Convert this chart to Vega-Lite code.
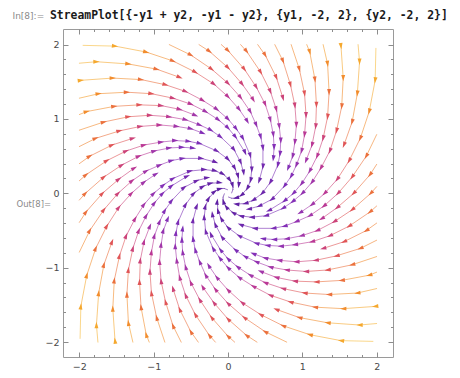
{
  "$schema": "https://vega.github.io/schema/vega-lite/v6.json",
  "width": 330,
  "height": 328,
  "autosize": {"type": "none"},
  "padding": {"left": 63, "top": 29, "right": 67, "bottom": 21},
  "background": "#ffffff",
  "title": {
    "text": "StreamPlot[{-y1 + y2, -y1 - y2}, {y1, -2, 2}, {y2, -2, 2}]",
    "anchor": "start",
    "frame": "group",
    "orient": "top",
    "font": "DejaVu Sans Mono",
    "fontSize": 11.4,
    "fontWeight": "bold",
    "color": "#1a1a1a",
    "baseline": "alphabetic",
    "dx": -13,
    "dy": 27,
    "offset": 8
  },
  "config": {
    "view": {"stroke": "#9a9a9a", "strokeWidth": 1},
    "axis": {"domain": false, "grid": false, "tickColor": "#8c8c8c", "tickWidth": 1, "labelFont": "DejaVu Sans", "labelFontSize": 9.5, "labelColor": "#4a4a4a", "labelOverlap": false, "labelFlush": false, "labelBound": false}
  },
  "datasets": {
    "sl": [
      {"i":0,"x":1.52,"y":1.98,"v":3.54,"d":277.5},{"i":0,"x":1.55,"y":1.55,"v":3.1,"d":270},{"i":0,"x":1.53,"y":1.17,"v":2.72,"d":262.5},{"i":0,"x":1.46,"y":0.84,"v":2.39,"d":255},{"i":0,"x":1.37,"y":0.57,"v":2.09,"d":247.5},{"i":0,"x":1.25,"y":0.34,"v":1.84,"d":240},{"i":0,"x":1.13,"y":0.15,"v":1.61,"d":232.5},{"i":0,"x":1,"y":0,"v":1.41,"d":225},{"i":0,"x":0.87,"y":-0.11,"v":1.24,"d":217.5},{"i":0,"x":0.74,"y":-0.2,"v":1.09,"d":210},{"i":0,"x":0.51,"y":-0.3,"v":0.84,"d":195},{"i":0,"x":0.32,"y":-0.32,"v":0.64,"d":180},{"i":0,"x":0.175,"y":-0.304,"v":0.5,"d":165},{"i":0,"x":0.07,"y":-0.261,"v":0.38,"d":150},{"i":0,"x":-0.024,"y":-0.181,"v":0.26,"d":127.5},{"i":0,"x":-0.062,"y":-0.107,"v":0.17,"d":105},{"i":0,"x":-0.066,"y":-0.051,"v":0.12,"d":82.5},{"i":0,"x":-0.049,"y":-0.006,"v":0.07,"d":52.5},
      {"i":12,"x":-1.98,"y":1.52,"v":3.54,"d":7.5},{"i":12,"x":-1.55,"y":1.55,"v":3.1,"d":0},{"i":12,"x":-1.17,"y":1.53,"v":2.72,"d":352.5},{"i":12,"x":-0.84,"y":1.46,"v":2.39,"d":345},{"i":12,"x":-0.57,"y":1.37,"v":2.09,"d":337.5},{"i":12,"x":-0.34,"y":1.25,"v":1.84,"d":330},{"i":12,"x":-0.15,"y":1.13,"v":1.61,"d":322.5},{"i":12,"x":0,"y":1,"v":1.41,"d":315},{"i":12,"x":0.11,"y":0.87,"v":1.24,"d":307.5},{"i":12,"x":0.2,"y":0.74,"v":1.09,"d":300},{"i":12,"x":0.3,"y":0.51,"v":0.84,"d":285},{"i":12,"x":0.32,"y":0.32,"v":0.64,"d":270},{"i":12,"x":0.304,"y":0.175,"v":0.5,"d":255},{"i":12,"x":0.261,"y":0.07,"v":0.38,"d":240},{"i":12,"x":0.181,"y":-0.024,"v":0.26,"d":217.5},{"i":12,"x":0.107,"y":-0.062,"v":0.17,"d":195},{"i":12,"x":0.051,"y":-0.066,"v":0.12,"d":172.5},{"i":12,"x":0.006,"y":-0.049,"v":0.07,"d":142.5},
      {"i":24,"x":-1.52,"y":-1.98,"v":3.54,"d":97.5},{"i":24,"x":-1.55,"y":-1.55,"v":3.1,"d":90},{"i":24,"x":-1.53,"y":-1.17,"v":2.72,"d":82.5},{"i":24,"x":-1.46,"y":-0.84,"v":2.39,"d":75},{"i":24,"x":-1.37,"y":-0.57,"v":2.09,"d":67.5},{"i":24,"x":-1.25,"y":-0.34,"v":1.84,"d":60},{"i":24,"x":-1.13,"y":-0.15,"v":1.61,"d":52.5},{"i":24,"x":-1,"y":0,"v":1.41,"d":45},{"i":24,"x":-0.87,"y":0.11,"v":1.24,"d":37.5},{"i":24,"x":-0.74,"y":0.2,"v":1.09,"d":30},{"i":24,"x":-0.51,"y":0.3,"v":0.84,"d":15},{"i":24,"x":-0.32,"y":0.32,"v":0.64,"d":0},{"i":24,"x":-0.175,"y":0.304,"v":0.5,"d":345},{"i":24,"x":-0.07,"y":0.261,"v":0.38,"d":330},{"i":24,"x":0.024,"y":0.181,"v":0.26,"d":307.5},{"i":24,"x":0.062,"y":0.107,"v":0.17,"d":285},{"i":24,"x":0.066,"y":0.051,"v":0.12,"d":262.5},{"i":24,"x":0.049,"y":0.006,"v":0.07,"d":232.5},
      {"i":36,"x":1.98,"y":-1.52,"v":3.54,"d":187.5},{"i":36,"x":1.55,"y":-1.55,"v":3.1,"d":180},{"i":36,"x":1.17,"y":-1.53,"v":2.72,"d":172.5},{"i":36,"x":0.84,"y":-1.46,"v":2.39,"d":165},{"i":36,"x":0.57,"y":-1.37,"v":2.09,"d":157.5},{"i":36,"x":0.34,"y":-1.25,"v":1.84,"d":150},{"i":36,"x":0.15,"y":-1.13,"v":1.61,"d":142.5},{"i":36,"x":0,"y":-1,"v":1.41,"d":135},{"i":36,"x":-0.11,"y":-0.87,"v":1.24,"d":127.5},{"i":36,"x":-0.2,"y":-0.74,"v":1.09,"d":120},{"i":36,"x":-0.3,"y":-0.51,"v":0.84,"d":105},{"i":36,"x":-0.32,"y":-0.32,"v":0.64,"d":90},{"i":36,"x":-0.304,"y":-0.175,"v":0.5,"d":75},{"i":36,"x":-0.261,"y":-0.07,"v":0.38,"d":60},{"i":36,"x":-0.181,"y":0.024,"v":0.26,"d":37.5},{"i":36,"x":-0.107,"y":0.062,"v":0.17,"d":15},{"i":36,"x":-0.051,"y":0.066,"v":0.12,"d":352.5},{"i":36,"x":-0.006,"y":0.049,"v":0.07,"d":322.5},

      {"i":1,"x":1.28,"y":2,"v":3.36},{"i":1,"x":1.34,"y":1.74,"v":3.1,"d":277.5},{"i":1,"x":1.36,"y":1.36,"v":2.72,"d":270},{"i":1,"x":1.34,"y":1.03,"v":2.39,"d":262.5},{"i":1,"x":1.28,"y":0.74,"v":2.09,"d":255},{"i":1,"x":1.2,"y":0.5,"v":1.84,"d":247.5},{"i":1,"x":1.1,"y":0.3,"v":1.61,"d":240},{"i":1,"x":0.99,"y":0.13,"v":1.41,"d":232.5},{"i":1,"x":0.88,"y":0,"v":1.24,"d":225},{"i":1,"x":0.76,"y":-0.1,"v":1.09,"d":217.5},{"i":1,"x":0.55,"y":-0.23,"v":0.84,"d":202.5},
      {"i":13,"x":-2,"y":1.28,"v":3.36},{"i":13,"x":-1.74,"y":1.34,"v":3.1,"d":7.5},{"i":13,"x":-1.36,"y":1.36,"v":2.72,"d":0},{"i":13,"x":-1.03,"y":1.34,"v":2.39,"d":352.5},{"i":13,"x":-0.74,"y":1.28,"v":2.09,"d":345},{"i":13,"x":-0.5,"y":1.2,"v":1.84,"d":337.5},{"i":13,"x":-0.3,"y":1.1,"v":1.61,"d":330},{"i":13,"x":-0.13,"y":0.99,"v":1.41,"d":322.5},{"i":13,"x":0,"y":0.88,"v":1.24,"d":315},{"i":13,"x":0.1,"y":0.76,"v":1.09,"d":307.5},{"i":13,"x":0.23,"y":0.55,"v":0.84,"d":292.5},
      {"i":25,"x":-1.28,"y":-2,"v":3.36},{"i":25,"x":-1.34,"y":-1.74,"v":3.1,"d":97.5},{"i":25,"x":-1.36,"y":-1.36,"v":2.72,"d":90},{"i":25,"x":-1.34,"y":-1.03,"v":2.39,"d":82.5},{"i":25,"x":-1.28,"y":-0.74,"v":2.09,"d":75},{"i":25,"x":-1.2,"y":-0.5,"v":1.84,"d":67.5},{"i":25,"x":-1.1,"y":-0.3,"v":1.61,"d":60},{"i":25,"x":-0.99,"y":-0.13,"v":1.41,"d":52.5},{"i":25,"x":-0.88,"y":0,"v":1.24,"d":45},{"i":25,"x":-0.76,"y":0.1,"v":1.09,"d":37.5},{"i":25,"x":-0.55,"y":0.23,"v":0.84,"d":22.5},
      {"i":37,"x":2,"y":-1.28,"v":3.36},{"i":37,"x":1.74,"y":-1.34,"v":3.1,"d":187.5},{"i":37,"x":1.36,"y":-1.36,"v":2.72,"d":180},{"i":37,"x":1.03,"y":-1.34,"v":2.39,"d":172.5},{"i":37,"x":0.74,"y":-1.28,"v":2.09,"d":165},{"i":37,"x":0.5,"y":-1.2,"v":1.84,"d":157.5},{"i":37,"x":0.3,"y":-1.1,"v":1.61,"d":150},{"i":37,"x":0.13,"y":-0.99,"v":1.41,"d":142.5},{"i":37,"x":0,"y":-0.88,"v":1.24,"d":135},{"i":37,"x":-0.1,"y":-0.76,"v":1.09,"d":127.5},{"i":37,"x":-0.23,"y":-0.55,"v":0.84,"d":112.5},

      {"i":2,"x":1.06,"y":2,"v":3.2},{"i":2,"x":1.1,"y":1.9,"v":3.1,"d":285},{"i":2,"x":1.17,"y":1.53,"v":2.72,"d":277.5},{"i":2,"x":1.19,"y":1.19,"v":2.39,"d":270},{"i":2,"x":1.18,"y":0.9,"v":2.09,"d":262.5},{"i":2,"x":1.13,"y":0.65,"v":1.84,"d":255},{"i":2,"x":1.05,"y":0.44,"v":1.61,"d":247.5},
      {"i":14,"x":-2,"y":1.06,"v":3.2},{"i":14,"x":-1.9,"y":1.1,"v":3.1,"d":15},{"i":14,"x":-1.53,"y":1.17,"v":2.72,"d":7.5},{"i":14,"x":-1.19,"y":1.19,"v":2.39,"d":0},{"i":14,"x":-0.9,"y":1.18,"v":2.09,"d":352.5},{"i":14,"x":-0.65,"y":1.13,"v":1.84,"d":345},{"i":14,"x":-0.44,"y":1.05,"v":1.61,"d":337.5},
      {"i":26,"x":-1.06,"y":-2,"v":3.2},{"i":26,"x":-1.1,"y":-1.9,"v":3.1,"d":105},{"i":26,"x":-1.17,"y":-1.53,"v":2.72,"d":97.5},{"i":26,"x":-1.19,"y":-1.19,"v":2.39,"d":90},{"i":26,"x":-1.18,"y":-0.9,"v":2.09,"d":82.5},{"i":26,"x":-1.13,"y":-0.65,"v":1.84,"d":75},{"i":26,"x":-1.05,"y":-0.44,"v":1.61,"d":67.5},
      {"i":38,"x":2,"y":-1.06,"v":3.2},{"i":38,"x":1.9,"y":-1.1,"v":3.1,"d":195},{"i":38,"x":1.53,"y":-1.17,"v":2.72,"d":187.5},{"i":38,"x":1.19,"y":-1.19,"v":2.39,"d":180},{"i":38,"x":0.9,"y":-1.18,"v":2.09,"d":172.5},{"i":38,"x":0.65,"y":-1.13,"v":1.84,"d":165},{"i":38,"x":0.44,"y":-1.05,"v":1.61,"d":157.5},

      {"i":3,"x":0.85,"y":2,"v":3.07},{"i":3,"x":0.96,"y":1.67,"v":2.72,"d":285},{"i":3,"x":1.03,"y":1.34,"v":2.39,"d":277.5},{"i":3,"x":1.05,"y":1.05,"v":2.09,"d":270},{"i":3,"x":1.03,"y":0.79,"v":1.84,"d":262.5},{"i":3,"x":0.99,"y":0.57,"v":1.61,"d":255},{"i":3,"x":0.92,"y":0.38,"v":1.41,"d":247.5},{"i":3,"x":0.85,"y":0.23,"v":1.24,"d":240},{"i":3,"x":0.76,"y":0.1,"v":1.09,"d":232.5},{"i":3,"x":0.59,"y":-0.08,"v":0.84,"d":217.5},{"i":3,"x":0.42,"y":-0.17,"v":0.64,"d":202.5},{"i":3,"x":0.28,"y":-0.21,"v":0.5,"d":187.5},
      {"i":15,"x":-2,"y":0.85,"v":3.07},{"i":15,"x":-1.67,"y":0.96,"v":2.72,"d":15},{"i":15,"x":-1.34,"y":1.03,"v":2.39,"d":7.5},{"i":15,"x":-1.05,"y":1.05,"v":2.09,"d":0},{"i":15,"x":-0.79,"y":1.03,"v":1.84,"d":352.5},{"i":15,"x":-0.57,"y":0.99,"v":1.61,"d":345},{"i":15,"x":-0.38,"y":0.92,"v":1.41,"d":337.5},{"i":15,"x":-0.23,"y":0.85,"v":1.24,"d":330},{"i":15,"x":-0.1,"y":0.76,"v":1.09,"d":322.5},{"i":15,"x":0.08,"y":0.59,"v":0.84,"d":307.5},{"i":15,"x":0.17,"y":0.42,"v":0.64,"d":292.5},{"i":15,"x":0.21,"y":0.28,"v":0.5,"d":277.5},
      {"i":27,"x":-0.85,"y":-2,"v":3.07},{"i":27,"x":-0.96,"y":-1.67,"v":2.72,"d":105},{"i":27,"x":-1.03,"y":-1.34,"v":2.39,"d":97.5},{"i":27,"x":-1.05,"y":-1.05,"v":2.09,"d":90},{"i":27,"x":-1.03,"y":-0.79,"v":1.84,"d":82.5},{"i":27,"x":-0.99,"y":-0.57,"v":1.61,"d":75},{"i":27,"x":-0.92,"y":-0.38,"v":1.41,"d":67.5},{"i":27,"x":-0.85,"y":-0.23,"v":1.24,"d":60},{"i":27,"x":-0.76,"y":-0.1,"v":1.09,"d":52.5},{"i":27,"x":-0.59,"y":0.08,"v":0.84,"d":37.5},{"i":27,"x":-0.42,"y":0.17,"v":0.64,"d":22.5},{"i":27,"x":-0.28,"y":0.21,"v":0.5,"d":7.5},
      {"i":39,"x":2,"y":-0.85,"v":3.07},{"i":39,"x":1.67,"y":-0.96,"v":2.72,"d":195},{"i":39,"x":1.34,"y":-1.03,"v":2.39,"d":187.5},{"i":39,"x":1.05,"y":-1.05,"v":2.09,"d":180},{"i":39,"x":0.79,"y":-1.03,"v":1.84,"d":172.5},{"i":39,"x":0.57,"y":-0.99,"v":1.61,"d":165},{"i":39,"x":0.38,"y":-0.92,"v":1.41,"d":157.5},{"i":39,"x":0.23,"y":-0.85,"v":1.24,"d":150},{"i":39,"x":0.1,"y":-0.76,"v":1.09,"d":142.5},{"i":39,"x":-0.08,"y":-0.59,"v":0.84,"d":127.5},{"i":39,"x":-0.17,"y":-0.42,"v":0.64,"d":112.5},{"i":39,"x":-0.21,"y":-0.28,"v":0.5,"d":97.5},

      {"i":4,"x":0.63,"y":2,"v":2.96},{"i":4,"x":0.74,"y":1.78,"v":2.72,"d":292.5},{"i":4,"x":0.84,"y":1.46,"v":2.39,"d":285},{"i":4,"x":0.9,"y":1.18,"v":2.09,"d":277.5},{"i":4,"x":0.92,"y":0.92,"v":1.84,"d":270},{"i":4,"x":0.9,"y":0.69,"v":1.61,"d":262.5},{"i":4,"x":0.87,"y":0.5,"v":1.41,"d":255},{"i":4,"x":0.81,"y":0.34,"v":1.24,"d":247.5},
      {"i":16,"x":-2,"y":0.63,"v":2.96},{"i":16,"x":-1.78,"y":0.74,"v":2.72,"d":22.5},{"i":16,"x":-1.46,"y":0.84,"v":2.39,"d":15},{"i":16,"x":-1.18,"y":0.9,"v":2.09,"d":7.5},{"i":16,"x":-0.92,"y":0.92,"v":1.84,"d":0},{"i":16,"x":-0.69,"y":0.9,"v":1.61,"d":352.5},{"i":16,"x":-0.5,"y":0.87,"v":1.41,"d":345},{"i":16,"x":-0.34,"y":0.81,"v":1.24,"d":337.5},
      {"i":28,"x":-0.63,"y":-2,"v":2.96},{"i":28,"x":-0.74,"y":-1.78,"v":2.72,"d":112.5},{"i":28,"x":-0.84,"y":-1.46,"v":2.39,"d":105},{"i":28,"x":-0.9,"y":-1.18,"v":2.09,"d":97.5},{"i":28,"x":-0.92,"y":-0.92,"v":1.84,"d":90},{"i":28,"x":-0.9,"y":-0.69,"v":1.61,"d":82.5},{"i":28,"x":-0.87,"y":-0.5,"v":1.41,"d":75},{"i":28,"x":-0.81,"y":-0.34,"v":1.24,"d":67.5},
      {"i":40,"x":2,"y":-0.63,"v":2.96},{"i":40,"x":1.78,"y":-0.74,"v":2.72,"d":202.5},{"i":40,"x":1.46,"y":-0.84,"v":2.39,"d":195},{"i":40,"x":1.18,"y":-0.9,"v":2.09,"d":187.5},{"i":40,"x":0.92,"y":-0.92,"v":1.84,"d":180},{"i":40,"x":0.69,"y":-0.9,"v":1.61,"d":172.5},{"i":40,"x":0.5,"y":-0.87,"v":1.41,"d":165},{"i":40,"x":0.34,"y":-0.81,"v":1.24,"d":157.5},

      {"i":5,"x":0.4,"y":2,"v":2.89},{"i":5,"x":0.5,"y":1.86,"v":2.72,"d":300},{"i":5,"x":0.65,"y":1.56,"v":2.39,"d":292.5},{"i":5,"x":0.74,"y":1.28,"v":2.09,"d":285},
      {"i":17,"x":-2,"y":0.4,"v":2.89},{"i":17,"x":-1.86,"y":0.5,"v":2.72,"d":30},{"i":17,"x":-1.56,"y":0.65,"v":2.39,"d":22.5},{"i":17,"x":-1.28,"y":0.74,"v":2.09,"d":15},
      {"i":29,"x":-0.4,"y":-2,"v":2.89},{"i":29,"x":-0.5,"y":-1.86,"v":2.72,"d":120},{"i":29,"x":-0.65,"y":-1.56,"v":2.39,"d":112.5},{"i":29,"x":-0.74,"y":-1.28,"v":2.09,"d":105},
      {"i":41,"x":2,"y":-0.4,"v":2.89},{"i":41,"x":1.86,"y":-0.5,"v":2.72,"d":210},{"i":41,"x":1.56,"y":-0.65,"v":2.39,"d":202.5},{"i":41,"x":1.28,"y":-0.74,"v":2.09,"d":195},

      {"i":6,"x":0.17,"y":2,"v":2.84},{"i":6,"x":0.25,"y":1.91,"v":2.72,"d":307.5},{"i":6,"x":0.44,"y":1.63,"v":2.39,"d":300},{"i":6,"x":0.57,"y":1.37,"v":2.09,"d":292.5},{"i":6,"x":0.65,"y":1.13,"v":1.84,"d":285},{"i":6,"x":0.69,"y":0.9,"v":1.61,"d":277.5},{"i":6,"x":0.71,"y":0.71,"v":1.41,"d":270},{"i":6,"x":0.7,"y":0.53,"v":1.24,"d":262.5},{"i":6,"x":0.67,"y":0.38,"v":1.09,"d":255},{"i":6,"x":0.57,"y":0.15,"v":0.84,"d":240},{"i":6,"x":0.46,"y":0,"v":0.64,"d":225},{"i":6,"x":0.34,"y":-0.09,"v":0.5,"d":210},{"i":6,"x":0.234,"y":-0.135,"v":0.38,"d":195},{"i":6,"x":0.111,"y":-0.145,"v":0.26,"d":172.5},
      {"i":18,"x":-2,"y":0.17,"v":2.84},{"i":18,"x":-1.91,"y":0.25,"v":2.72,"d":37.5},{"i":18,"x":-1.63,"y":0.44,"v":2.39,"d":30},{"i":18,"x":-1.37,"y":0.57,"v":2.09,"d":22.5},{"i":18,"x":-1.13,"y":0.65,"v":1.84,"d":15},{"i":18,"x":-0.9,"y":0.69,"v":1.61,"d":7.5},{"i":18,"x":-0.71,"y":0.71,"v":1.41,"d":0},{"i":18,"x":-0.53,"y":0.7,"v":1.24,"d":352.5},{"i":18,"x":-0.38,"y":0.67,"v":1.09,"d":345},{"i":18,"x":-0.15,"y":0.57,"v":0.84,"d":330},{"i":18,"x":0,"y":0.46,"v":0.64,"d":315},{"i":18,"x":0.09,"y":0.34,"v":0.5,"d":300},{"i":18,"x":0.135,"y":0.234,"v":0.38,"d":285},{"i":18,"x":0.145,"y":0.111,"v":0.26,"d":262.5},
      {"i":30,"x":-0.17,"y":-2,"v":2.84},{"i":30,"x":-0.25,"y":-1.91,"v":2.72,"d":127.5},{"i":30,"x":-0.44,"y":-1.63,"v":2.39,"d":120},{"i":30,"x":-0.57,"y":-1.37,"v":2.09,"d":112.5},{"i":30,"x":-0.65,"y":-1.13,"v":1.84,"d":105},{"i":30,"x":-0.69,"y":-0.9,"v":1.61,"d":97.5},{"i":30,"x":-0.71,"y":-0.71,"v":1.41,"d":90},{"i":30,"x":-0.7,"y":-0.53,"v":1.24,"d":82.5},{"i":30,"x":-0.67,"y":-0.38,"v":1.09,"d":75},{"i":30,"x":-0.57,"y":-0.15,"v":0.84,"d":60},{"i":30,"x":-0.46,"y":0,"v":0.64,"d":45},{"i":30,"x":-0.34,"y":0.09,"v":0.5,"d":30},{"i":30,"x":-0.234,"y":0.135,"v":0.38,"d":15},{"i":30,"x":-0.111,"y":0.145,"v":0.26,"d":352.5},
      {"i":42,"x":2,"y":-0.17,"v":2.84},{"i":42,"x":1.91,"y":-0.25,"v":2.72,"d":217.5},{"i":42,"x":1.63,"y":-0.44,"v":2.39,"d":210},{"i":42,"x":1.37,"y":-0.57,"v":2.09,"d":202.5},{"i":42,"x":1.13,"y":-0.65,"v":1.84,"d":195},{"i":42,"x":0.9,"y":-0.69,"v":1.61,"d":187.5},{"i":42,"x":0.71,"y":-0.71,"v":1.41,"d":180},{"i":42,"x":0.53,"y":-0.7,"v":1.24,"d":172.5},{"i":42,"x":0.38,"y":-0.67,"v":1.09,"d":165},{"i":42,"x":0.15,"y":-0.57,"v":0.84,"d":150},{"i":42,"x":0,"y":-0.46,"v":0.64,"d":135},{"i":42,"x":-0.09,"y":-0.34,"v":0.5,"d":120},{"i":42,"x":-0.135,"y":-0.234,"v":0.38,"d":105},{"i":42,"x":-0.145,"y":-0.111,"v":0.26,"d":82.5},

      {"i":7,"x":-0.09,"y":2,"v":2.83},{"i":7,"x":0,"y":1.92,"v":2.72,"d":315},{"i":7,"x":0.22,"y":1.67,"v":2.39,"d":307.5},{"i":7,"x":0.38,"y":1.43,"v":2.09,"d":300},{"i":7,"x":0.5,"y":1.2,"v":1.84,"d":292.5},{"i":7,"x":0.57,"y":0.99,"v":1.61,"d":285},{"i":7,"x":0.61,"y":0.79,"v":1.41,"d":277.5},{"i":7,"x":0.62,"y":0.62,"v":1.24,"d":270},{"i":7,"x":0.61,"y":0.47,"v":1.09,"d":262.5},
      {"i":19,"x":-2,"y":-0.09,"v":2.83},{"i":19,"x":-1.92,"y":0,"v":2.72,"d":45},{"i":19,"x":-1.67,"y":0.22,"v":2.39,"d":37.5},{"i":19,"x":-1.43,"y":0.38,"v":2.09,"d":30},{"i":19,"x":-1.2,"y":0.5,"v":1.84,"d":22.5},{"i":19,"x":-0.99,"y":0.57,"v":1.61,"d":15},{"i":19,"x":-0.79,"y":0.61,"v":1.41,"d":7.5},{"i":19,"x":-0.62,"y":0.62,"v":1.24,"d":0},{"i":19,"x":-0.47,"y":0.61,"v":1.09,"d":352.5},
      {"i":31,"x":0.09,"y":-2,"v":2.83},{"i":31,"x":0,"y":-1.92,"v":2.72,"d":135},{"i":31,"x":-0.22,"y":-1.67,"v":2.39,"d":127.5},{"i":31,"x":-0.38,"y":-1.43,"v":2.09,"d":120},{"i":31,"x":-0.5,"y":-1.2,"v":1.84,"d":112.5},{"i":31,"x":-0.57,"y":-0.99,"v":1.61,"d":105},{"i":31,"x":-0.61,"y":-0.79,"v":1.41,"d":97.5},{"i":31,"x":-0.62,"y":-0.62,"v":1.24,"d":90},{"i":31,"x":-0.61,"y":-0.47,"v":1.09,"d":82.5},
      {"i":43,"x":2,"y":0.09,"v":2.83},{"i":43,"x":1.92,"y":0,"v":2.72,"d":225},{"i":43,"x":1.67,"y":-0.22,"v":2.39,"d":217.5},{"i":43,"x":1.43,"y":-0.38,"v":2.09,"d":210},{"i":43,"x":1.2,"y":-0.5,"v":1.84,"d":202.5},{"i":43,"x":0.99,"y":-0.57,"v":1.61,"d":195},{"i":43,"x":0.79,"y":-0.61,"v":1.41,"d":187.5},{"i":43,"x":0.62,"y":-0.62,"v":1.24,"d":180},{"i":43,"x":0.47,"y":-0.61,"v":1.09,"d":172.5},

      {"i":8,"x":-0.39,"y":2,"v":2.88},{"i":8,"x":-0.25,"y":1.91,"v":2.72,"d":322.5},{"i":8,"x":0,"y":1.69,"v":2.39,"d":315},{"i":8,"x":0.19,"y":1.47,"v":2.09,"d":307.5},{"i":8,"x":0.34,"y":1.26,"v":1.84,"d":300},
      {"i":20,"x":-2,"y":-0.39,"v":2.88},{"i":20,"x":-1.91,"y":-0.25,"v":2.72,"d":52.5},{"i":20,"x":-1.69,"y":0,"v":2.39,"d":45},{"i":20,"x":-1.47,"y":0.19,"v":2.09,"d":37.5},{"i":20,"x":-1.26,"y":0.34,"v":1.84,"d":30},
      {"i":32,"x":0.39,"y":-2,"v":2.88},{"i":32,"x":0.25,"y":-1.91,"v":2.72,"d":142.5},{"i":32,"x":0,"y":-1.69,"v":2.39,"d":135},{"i":32,"x":-0.19,"y":-1.47,"v":2.09,"d":127.5},{"i":32,"x":-0.34,"y":-1.26,"v":1.84,"d":120},
      {"i":44,"x":2,"y":0.39,"v":2.88},{"i":44,"x":1.91,"y":0.25,"v":2.72,"d":232.5},{"i":44,"x":1.69,"y":0,"v":2.39,"d":225},{"i":44,"x":1.47,"y":-0.19,"v":2.09,"d":217.5},{"i":44,"x":1.26,"y":-0.34,"v":1.84,"d":210},

      {"i":9,"x":-0.79,"y":2,"v":3.04},{"i":9,"x":-0.5,"y":1.86,"v":2.72,"d":330},{"i":9,"x":-0.22,"y":1.67,"v":2.39,"d":322.5},{"i":9,"x":0,"y":1.48,"v":2.09,"d":315},{"i":9,"x":0.17,"y":1.29,"v":1.84,"d":307.5},{"i":9,"x":0.3,"y":1.1,"v":1.61,"d":300},{"i":9,"x":0.38,"y":0.92,"v":1.41,"d":292.5},{"i":9,"x":0.44,"y":0.76,"v":1.24,"d":285},{"i":9,"x":0.47,"y":0.61,"v":1.09,"d":277.5},{"i":9,"x":0.47,"y":0.36,"v":0.84,"d":262.5},{"i":9,"x":0.42,"y":0.17,"v":0.64,"d":247.5},
      {"i":21,"x":-2,"y":-0.79,"v":3.04},{"i":21,"x":-1.86,"y":-0.5,"v":2.72,"d":60},{"i":21,"x":-1.67,"y":-0.22,"v":2.39,"d":52.5},{"i":21,"x":-1.48,"y":0,"v":2.09,"d":45},{"i":21,"x":-1.29,"y":0.17,"v":1.84,"d":37.5},{"i":21,"x":-1.1,"y":0.3,"v":1.61,"d":30},{"i":21,"x":-0.92,"y":0.38,"v":1.41,"d":22.5},{"i":21,"x":-0.76,"y":0.44,"v":1.24,"d":15},{"i":21,"x":-0.61,"y":0.47,"v":1.09,"d":7.5},{"i":21,"x":-0.36,"y":0.47,"v":0.84,"d":352.5},{"i":21,"x":-0.17,"y":0.42,"v":0.64,"d":337.5},
      {"i":33,"x":0.79,"y":-2,"v":3.04},{"i":33,"x":0.5,"y":-1.86,"v":2.72,"d":150},{"i":33,"x":0.22,"y":-1.67,"v":2.39,"d":142.5},{"i":33,"x":0,"y":-1.48,"v":2.09,"d":135},{"i":33,"x":-0.17,"y":-1.29,"v":1.84,"d":127.5},{"i":33,"x":-0.3,"y":-1.1,"v":1.61,"d":120},{"i":33,"x":-0.38,"y":-0.92,"v":1.41,"d":112.5},{"i":33,"x":-0.44,"y":-0.76,"v":1.24,"d":105},{"i":33,"x":-0.47,"y":-0.61,"v":1.09,"d":97.5},{"i":33,"x":-0.47,"y":-0.36,"v":0.84,"d":82.5},{"i":33,"x":-0.42,"y":-0.17,"v":0.64,"d":67.5},
      {"i":45,"x":2,"y":0.79,"v":3.04},{"i":45,"x":1.86,"y":0.5,"v":2.72,"d":240},{"i":45,"x":1.67,"y":0.22,"v":2.39,"d":232.5},{"i":45,"x":1.48,"y":0,"v":2.09,"d":225},{"i":45,"x":1.29,"y":-0.17,"v":1.84,"d":217.5},{"i":45,"x":1.1,"y":-0.3,"v":1.61,"d":210},{"i":45,"x":0.92,"y":-0.38,"v":1.41,"d":202.5},{"i":45,"x":0.76,"y":-0.44,"v":1.24,"d":195},{"i":45,"x":0.61,"y":-0.47,"v":1.09,"d":187.5},{"i":45,"x":0.36,"y":-0.47,"v":0.84,"d":172.5},{"i":45,"x":0.17,"y":-0.42,"v":0.64,"d":157.5},

      {"i":10,"x":-1.95,"y":1.99,"v":3.94},{"i":10,"x":-1.52,"y":1.98,"v":3.54,"d":352.5},{"i":10,"x":-1.1,"y":1.9,"v":3.1,"d":345},{"i":10,"x":-0.74,"y":1.78,"v":2.72,"d":337.5},{"i":10,"x":-0.44,"y":1.63,"v":2.39,"d":330},{"i":10,"x":-0.19,"y":1.47,"v":2.09,"d":322.5},{"i":10,"x":0,"y":1.3,"v":1.84,"d":315},{"i":10,"x":0.15,"y":1.13,"v":1.61,"d":307.5},{"i":10,"x":0.26,"y":0.97,"v":1.41,"d":300},
      {"i":22,"x":-1.99,"y":-1.95,"v":3.94},{"i":22,"x":-1.98,"y":-1.52,"v":3.54,"d":82.5},{"i":22,"x":-1.9,"y":-1.1,"v":3.1,"d":75},{"i":22,"x":-1.78,"y":-0.74,"v":2.72,"d":67.5},{"i":22,"x":-1.63,"y":-0.44,"v":2.39,"d":60},{"i":22,"x":-1.47,"y":-0.19,"v":2.09,"d":52.5},{"i":22,"x":-1.3,"y":0,"v":1.84,"d":45},{"i":22,"x":-1.13,"y":0.15,"v":1.61,"d":37.5},{"i":22,"x":-0.97,"y":0.26,"v":1.41,"d":30},
      {"i":34,"x":1.95,"y":-1.99,"v":3.94},{"i":34,"x":1.52,"y":-1.98,"v":3.54,"d":172.5},{"i":34,"x":1.1,"y":-1.9,"v":3.1,"d":165},{"i":34,"x":0.74,"y":-1.78,"v":2.72,"d":157.5},{"i":34,"x":0.44,"y":-1.63,"v":2.39,"d":150},{"i":34,"x":0.19,"y":-1.47,"v":2.09,"d":142.5},{"i":34,"x":0,"y":-1.3,"v":1.84,"d":135},{"i":34,"x":-0.15,"y":-1.13,"v":1.61,"d":127.5},{"i":34,"x":-0.26,"y":-0.97,"v":1.41,"d":120},
      {"i":46,"x":1.99,"y":1.95,"v":3.94},{"i":46,"x":1.98,"y":1.52,"v":3.54,"d":262.5},{"i":46,"x":1.9,"y":1.1,"v":3.1,"d":255},{"i":46,"x":1.78,"y":0.74,"v":2.72,"d":247.5},{"i":46,"x":1.63,"y":0.44,"v":2.39,"d":240},{"i":46,"x":1.47,"y":0.19,"v":2.09,"d":232.5},{"i":46,"x":1.3,"y":0,"v":1.84,"d":225},{"i":46,"x":1.13,"y":-0.15,"v":1.61,"d":217.5},{"i":46,"x":0.97,"y":-0.26,"v":1.41,"d":210},

      {"i":11,"x":-2,"y":1.75,"v":3.76},{"i":11,"x":-1.77,"y":1.77,"v":3.54,"d":0},{"i":11,"x":-1.34,"y":1.74,"v":3.1,"d":352.5},{"i":11,"x":-0.96,"y":1.67,"v":2.72,"d":345},{"i":11,"x":-0.65,"y":1.56,"v":2.39,"d":337.5},
      {"i":23,"x":-1.75,"y":-2,"v":3.76},{"i":23,"x":-1.77,"y":-1.77,"v":3.54,"d":90},{"i":23,"x":-1.74,"y":-1.34,"v":3.1,"d":82.5},{"i":23,"x":-1.67,"y":-0.96,"v":2.72,"d":75},{"i":23,"x":-1.56,"y":-0.65,"v":2.39,"d":67.5},
      {"i":35,"x":2,"y":-1.75,"v":3.76},{"i":35,"x":1.77,"y":-1.77,"v":3.54,"d":180},{"i":35,"x":1.34,"y":-1.74,"v":3.1,"d":172.5},{"i":35,"x":0.96,"y":-1.67,"v":2.72,"d":165},{"i":35,"x":0.65,"y":-1.56,"v":2.39,"d":157.5},
      {"i":47,"x":1.75,"y":2,"v":3.76},{"i":47,"x":1.77,"y":1.77,"v":3.54,"d":270},{"i":47,"x":1.74,"y":1.34,"v":3.1,"d":262.5},{"i":47,"x":1.67,"y":0.96,"v":2.72,"d":255},{"i":47,"x":1.56,"y":0.65,"v":2.39,"d":247.5}
    ]
  },
  "layer": [
    {
      "data": {"name": "sl"},
      "transform": [
        {"window": [{"op": "lead", "field": "x", "as": "x2"}, {"op": "lead", "field": "y", "as": "y2"}], "groupby": ["i"], "sort": [{"field": "v", "order": "descending"}]},
        {"filter": "isValid(datum.x2)"}
      ],
      "mark": {"type": "rule", "strokeWidth": 1, "opacity": 0.6, "strokeCap": "round"},
      "encoding": {
        "x": {"field": "x", "type": "quantitative", "scale": {"domain": [-2.22, 2.22], "nice": false, "zero": false},
          "axis": {"orient": "bottom", "values": [-2,-1.8,-1.6,-1.4,-1.2,-1,-0.8,-0.6,-0.4,-0.2,0,0.2,0.4,0.6,0.8,1,1.2,1.4,1.6,1.8,2],
            "tickSize": {"condition": {"test": "datum.value % 1 === 0", "value": -5}, "value": -2.5},
            "labelExpr": "datum.value % 1 === 0 ? format(datum.value, 'd') : ''", "labelPadding": 9, "title": null}},
        "y": {"field": "y", "type": "quantitative", "scale": {"domain": [-2.2, 2.21], "nice": false, "zero": false},
          "axis": {"orient": "left", "values": [-2,-1.8,-1.6,-1.4,-1.2,-1,-0.8,-0.6,-0.4,-0.2,0,0.2,0.4,0.6,0.8,1,1.2,1.4,1.6,1.8,2],
            "tickSize": {"condition": {"test": "datum.value % 1 === 0", "value": -5}, "value": -2.5},
            "labelExpr": "datum.value % 1 === 0 ? format(datum.value, 'd') : ''", "labelPadding": 9,
            "title": "Out[8]=", "titleAngle": 0, "titleX": -47, "titleY": 174, "titleAlign": "left", "titleBaseline": "middle",
            "titleFont": "DejaVu Sans", "titleFontSize": 8.5, "titleFontWeight": "normal", "titleColor": "#8a8a8a"}},
        "x2": {"field": "x2"},
        "y2": {"field": "y2"},
        "color": {"field": "v", "type": "quantitative", "legend": null,
          "scale": {"domain": [0.1, 1.2, 1.7, 2.1, 2.5, 2.9, 3.4, 4.0], "range": ["#5b1fa0", "#8030b8", "#a83aa6", "#cc4478", "#e2604a", "#ef8030", "#f4a02a", "#f6c040"]}}
      }
    },
    {
      "data": {"name": "sl"},
      "transform": [{"filter": "abs(datum.x) < 1.99 && abs(datum.y) < 1.99 && datum.v > 0.15"}],
      "mark": {"type": "point", "shape": "M1,0L-1,-0.62L-1,0.62Z", "filled": true, "size": 40, "opacity": 1, "strokeWidth": 0},
      "encoding": {
        "x": {"field": "x", "type": "quantitative", "scale": {"domain": [-2.22, 2.22], "nice": false, "zero": false},
          "axis": {"orient": "top", "values": [-2,-1.8,-1.6,-1.4,-1.2,-1,-0.8,-0.6,-0.4,-0.2,0,0.2,0.4,0.6,0.8,1,1.2,1.4,1.6,1.8,2],
            "tickSize": {"condition": {"test": "datum.value % 1 === 0", "value": -5}, "value": -2.5},
            "labels": false, "title": "In[8]:=", "titleAngle": 0, "titleX": -51, "titleY": -14, "titleAlign": "left", "titleBaseline": "middle",
            "titleFont": "DejaVu Sans", "titleFontSize": 9, "titleFontWeight": "normal", "titleColor": "#8a8a8a"}},
        "y": {"field": "y", "type": "quantitative", "scale": {"domain": [-2.2, 2.21], "nice": false, "zero": false},
          "axis": {"orient": "right", "values": [-2,-1.8,-1.6,-1.4,-1.2,-1,-0.8,-0.6,-0.4,-0.2,0,0.2,0.4,0.6,0.8,1,1.2,1.4,1.6,1.8,2],
            "tickSize": {"condition": {"test": "datum.value % 1 === 0", "value": -5}, "value": -2.5},
            "labels": false, "title": null}},
        "color": {"field": "v", "type": "quantitative", "legend": null},
        "angle": {"field": "d", "type": "quantitative", "scale": {"domain": [0, 360], "range": [360, 0]}}
      }
    }
  ],
  "resolve": {"scale": {"x": "independent", "y": "independent"}}
}
